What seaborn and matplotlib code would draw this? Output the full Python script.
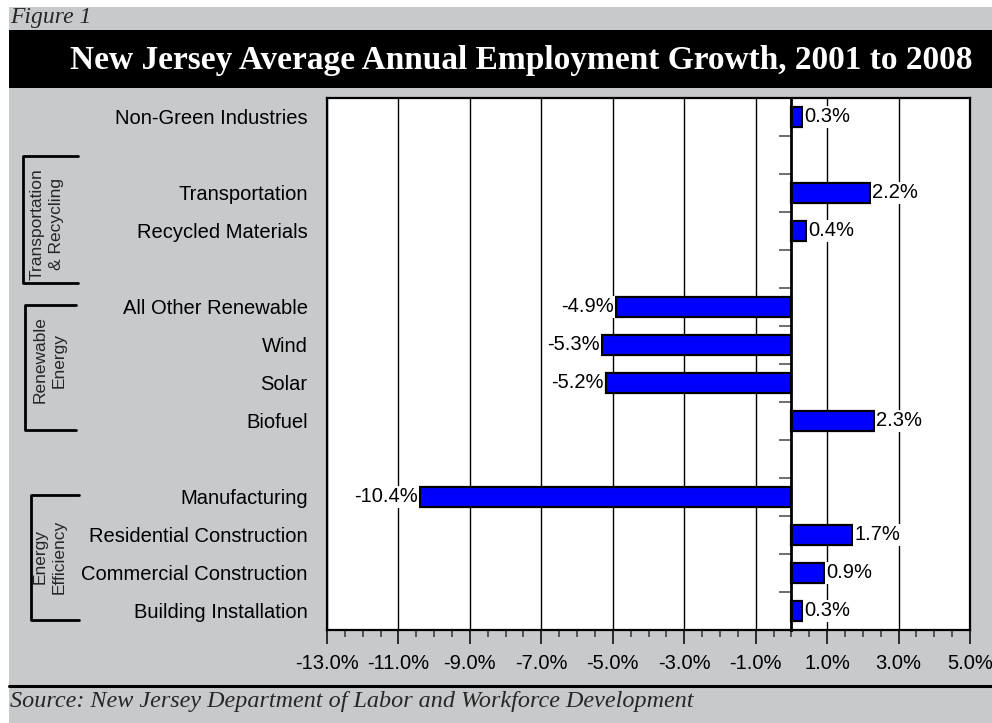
import numpy as np
import pandas as pd
import matplotlib
matplotlib.use("Agg")
import matplotlib.pyplot as plt
import seaborn as sns
from matplotlib.ticker import FixedLocator, MultipleLocator, FuncFormatter
from matplotlib.patches import Rectangle
from matplotlib.lines import Line2D

# ---------------- data ----------------
categories = ["Non-Green Industries", "Transportation", "Recycled Materials",
              "All Other Renewable", "Wind", "Solar", "Biofuel",
              "Manufacturing", "Residential Construction",
              "Commercial Construction", "Building Installation"]
growth = [0.3, 2.2, 0.4, -4.9, -5.3, -5.2, 2.3, -10.4, 1.7, 0.9, 0.3]
row_order = ["Non-Green Industries", " ", "Transportation", "Recycled Materials",
             "  ", "All Other Renewable", "Wind", "Solar", "Biofuel", "   ",
             "Manufacturing", "Residential Construction",
             "Commercial Construction", "Building Installation"]
x_tick_values = [-13, -11, -9, -7, -5, -3, -1, 1, 3, 5]
group_labels = ["Transportation\n& Recycling", "Renewable\nEnergy", "Energy\nEfficiency"]

title = "New Jersey Average Annual Employment Growth, 2001 to 2008"
figure_tag = "Figure 1"
source = "Source: New Jersey Department of Labor and Workforce Development"

df = pd.DataFrame({"category": categories, "growth": growth})

# ---------------- style ----------------
sns.set_theme(style="white")
plt.rcParams["font.family"] = ["Liberation Sans", "DejaVu Sans"]

W, H = 992, 723
BG = "#C8C9CB"
fig = plt.figure(figsize=(W / 100, H / 100), dpi=100, facecolor="white")


def fx(x):
    return x / W


def fy(y):
    return 1 - y / H


# gray panel and title band (behind the axes)
fig.patches.append(Rectangle((fx(9), 0), 1 - fx(9), fy(7), transform=fig.transFigure,
                             facecolor=BG, edgecolor="none", zorder=-10))
fig.patches.append(Rectangle((fx(9), fy(88)), 1 - fx(9), fy(30) - fy(88),
                             transform=fig.transFigure, facecolor="black",
                             edgecolor="none", zorder=-9))
fig.text(fx(10), fy(18), figure_tag, family="Liberation Serif", style="italic",
         fontsize=17, va="center", ha="left")
fig.text(fx(521), fy(61), title, family="Liberation Serif", weight="bold",
         fontsize=24, color="white", va="center", ha="center")

# separator + source
fig.add_artist(Line2D([fx(9), 1], [fy(686), fy(686)], color="black", lw=2.2,
                      transform=fig.transFigure))
fig.text(fx(10), fy(702), source, family="Liberation Serif", style="italic",
         fontsize=17.4, va="center", ha="left")

# ---------------- axes ----------------
ax = fig.add_axes([fx(327), fy(630), fx(970) - fx(327), fy(98) - fy(630)])
ax.set_facecolor("white")

sns.barplot(data=df, x="growth", y="category", order=row_order, orient="h",
            color="#0000FF", saturation=1, edgecolor="black", linewidth=1.6,
            width=0.52, ax=ax)

ax.set_xlim(-13, 5)
ax.set_ylim(len(row_order) - 0.5, -0.5)
ax.set_xlabel("")
ax.set_ylabel("")

ax.xaxis.set_major_locator(FixedLocator(x_tick_values))
ax.xaxis.set_minor_locator(MultipleLocator(0.5))
ax.xaxis.set_major_formatter(FuncFormatter(lambda v, p: f"{v:.1f}%"))
ax.xaxis.grid(True, which="major", color="black", lw=1)
ax.set_axisbelow(True)

ax.tick_params(axis="x", which="major", bottom=True, length=10, width=1.1,
               color="black", direction="out", pad=7, labelsize=14.5)
ax.tick_params(axis="x", which="minor", bottom=True, length=5, width=1.1,
               color="#333333", direction="out")
ax.tick_params(axis="y", length=0, pad=14, labelsize=14.5)
for lab in ax.get_xticklabels() + ax.get_yticklabels():
    lab.set_color("black")

for s in ax.spines.values():
    s.set_visible(True)
    s.set_color("black")
    s.set_linewidth(1.6)

# bar value labels
for cont in ax.containers:
    labels = [f"{v:.1f}%" if np.isfinite(v) else "" for v in cont.datavalues]
    texts = ax.bar_label(cont, labels=labels, padding=1.8, fontsize=14.5, color="black")
    for t in texts:
        t.set_bbox(dict(facecolor="white", edgecolor="none", pad=0.8))

# zero line with category-boundary ticks
ax2 = ax.twinx()
ax2.set_ylim(len(row_order) - 0.5, -0.5)
ax2.yaxis.tick_left()
for s in ["top", "right", "bottom"]:
    ax2.spines[s].set_visible(False)
ax2.spines["left"].set_position(("data", 0))
ax2.spines["left"].set_linewidth(2)
ax2.spines["left"].set_color("black")
ax2.set_yticks(np.arange(0.5, len(row_order) - 1, 1))
ax2.set_yticklabels([])
ax2.tick_params(axis="y", length=9, width=1.2, color="#555555", direction="out")
ax2.grid(False)

# ---------------- group brackets ----------------
brackets = [  # (vertical x, top y, bottom y, right x, label x, label y)
    (23, 156, 283, 78, 47, 224),
    (25, 305, 430, 76, 50, 360),
    (31, 495, 620, 79, 50, 557),
]
for (vx, ty, by, rx, lx, ly), lab in zip(brackets, group_labels):
    fig.add_artist(Line2D([fx(rx), fx(vx), fx(vx), fx(rx)],
                          [fy(ty), fy(ty), fy(by), fy(by)],
                          color="black", lw=2, transform=fig.transFigure))
    fig.text(fx(lx), fy(ly), lab, rotation=90, fontsize=12.5, ha="center",
             va="center", multialignment="center", linespacing=1.35)

fig.savefig("out.png", dpi=100, facecolor="white")
